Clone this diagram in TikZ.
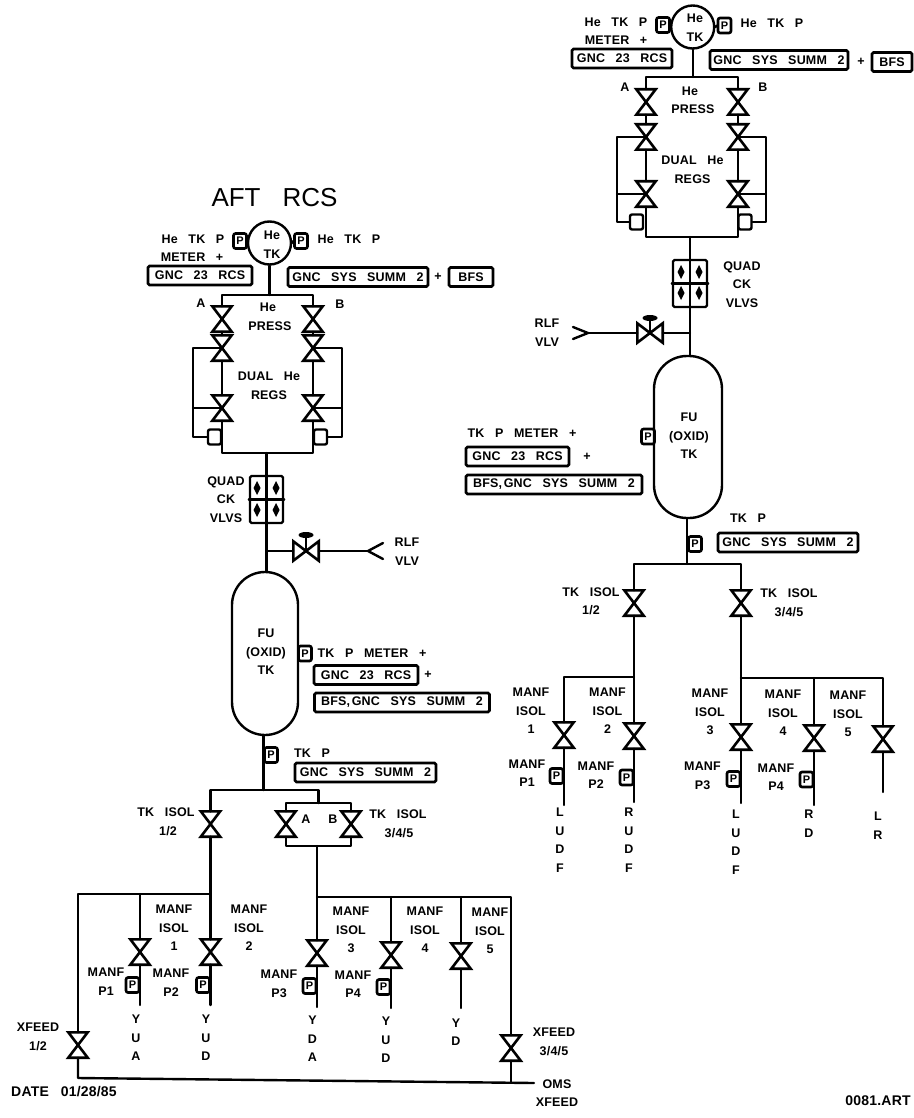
\documentclass[tikz,border=0pt]{standalone}
\usepackage{fontspec}
\usetikzlibrary{shapes.geometric}
\newfontfamily\lab[WordSpace=2.9,LetterSpace=1.5]{Liberation Sans}
\newfontfamily\plab{Liberation Sans}
\newcounter{lbn}
\newcommand{\bsp}{\hspace{-9pt}}
\tikzset{
  pipe/.style={line width=2.4pt,line join=round,line cap=round},
  vlvn/.style={rectangle,inner sep=0pt,minimum width=19pt,minimum height=25pt},
  hvlvn/.style={rectangle,inner sep=0pt,minimum width=25pt,minimum height=19pt},
  vlvd/.style={line width=2.6pt,line join=miter},
  lbl/.style={inner sep=0pt,align=center,font=\lab\bfseries\fontsize{12.5}{18.6}\selectfont},
  biglbl/.style={inner sep=0pt,font=\lab\bfseries\fontsize{14}{14}\selectfont},
  tbox/.style={draw,line width=2.6pt,rounded corners=1.5pt,inner sep=0pt,minimum height=19pt,font=\lab\bfseries\fontsize{12.5}{14}\selectfont},
  pbox/.style={draw,line width=2.6pt,rounded corners=2pt,inner sep=0pt,minimum width=13pt,minimum height=15pt,font=\plab\bfseries\fontsize{11}{11}\selectfont},
  regbox/.style={draw,line width=2.4pt,rounded corners=2pt,inner sep=0pt,minimum width=13pt,minimum height=15pt},
  tanknode/.style={draw,line width=2.4pt,rounded corners=33pt,inner sep=0pt,minimum width=66pt,minimum height=163pt},
  hetank/.style={draw,circle,line width=2.4pt,inner sep=0pt,minimum size=43pt},
  qbox/.style={draw,line width=2.4pt,rounded corners=1.5pt,inner sep=0pt,minimum width=33pt,minimum height=47pt},
  handle/.style={ellipse,fill=black,inner sep=0pt,minimum width=15pt,minimum height=6pt}
}
\newcommand{\lb}[3]{\stepcounter{lbn}\node[lbl] (lb\arabic{lbn}) at (#1,#2) {#3};}
\newcommand{\vlv}[3]{\node[vlvn] (#1) at (#2,#3) {};\draw[vlvd] (#1.north west) -- (#1.north east) -- (#1.south west) -- (#1.south east) -- cycle;}
\newcommand{\hvlv}[3]{\node[hvlvn] (#1) at (#2,#3) {};\draw[vlvd] (#1.north west) -- (#1.south west) -- (#1.north east) -- (#1.south east) -- cycle;}
\newcommand{\qd}[2]{\fill (#1,#2-7) -- (#1+3.5,#2) -- (#1,#2+7) -- (#1-3.5,#2) -- cycle;}
\begin{document}
\begin{tikzpicture}[x=1pt,y=-1pt]
\useasboundingbox (0,0) rectangle (913,1118);
\fill[white] (0,0) rectangle (913,1118);

% ===== AFT RCS =====
\node[inner sep=0pt,font=\plab\fontsize{26}{26}\selectfont] (title) at (274.5,198) {AFT\hspace{22pt}RCS};
\node[hetank] (heA) at (269.5,243) {};
\node[pbox] (pA1) at (240,241) {P};
\node[pbox] (pA2) at (301,241) {P};
\draw[pipe] (pA1.east) -- (heA.west);
\draw[pipe] (pA2.west) -- (heA.east);
\lb{193}{239}{He TK P}
\lb{192}{257}{METER +}
\lb{349}{239}{He TK P}
\node[tbox,minimum width=104pt] (aGnc) at (200,275.5) {GNC 23 RCS};
\node[tbox,minimum width=140pt] (aSys) at (358,277) {GNC SYS SUMM 2};
\lb{438}{277}{+}
\node[tbox,minimum width=44pt] (aBfs) at (471,277) {BFS};
\vlv{va1}{222}{319}\vlv{va2}{222}{348}\vlv{va3}{222}{408}
\vlv{vb1}{313}{319}\vlv{vb2}{313}{348}\vlv{vb3}{313}{408}
\node[regbox] (rgA) at (214.5,437) {};
\node[regbox] (rgB) at (320.5,437) {};
\coordinate (hbM) at (269.5,295);\coordinate (hbL) at (222,295);\coordinate (hbR) at (313,295);
\coordinate (oaT) at (193,348);\coordinate (oaM) at (193,408);\coordinate (oaB) at (193,437);
\coordinate (obT) at (342,348);\coordinate (obM) at (342,408);\coordinate (obB) at (342,437);
\coordinate (blL) at (222,453);\coordinate (blR) at (313,453);\coordinate (blM) at (266.5,453);
\draw[pipe] (heA.south) -- (hbM);
\draw[pipe] (va1.north) -- (hbL) -- (hbR) -- (vb1.north);
\draw[pipe] (va1.south) -- (va2.north);\draw[pipe] (va2.south) -- (va3.north);
\draw[pipe] (vb1.south) -- (vb2.north);\draw[pipe] (vb2.south) -- (vb3.north);
\draw[pipe] (va2.center) -- (oaT) -- (oaB) -- (rgA.west);
\draw[pipe] (oaM) -- (va3.center);
\draw[pipe] (vb2.center) -- (obT) -- (obB) -- (rgB.east);
\draw[pipe] (obM) -- (vb3.center);
\draw[pipe] (va3.south) -- (blL) -- (blR) -- (vb3.south);
\lb{201}{303}{A}\lb{340}{304}{B}
\lb{268}{307}{He}\lb{270}{326}{PRESS}
\lb{269}{386}{DUAL He\\REGS}
\node[lbl] (heAt) at (272,244.5) {He\\TK};
\node[qbox] (qA) at (266.5,499.5) {};
\draw[pipe] (qA.north) -- (qA.south);\draw[pipe] (qA.west) -- (qA.east);
\qd{257}{488}\qd{276}{488}\qd{257}{510}\qd{276}{510}
\draw[pipe] (blM) -- (qA.north);
\lb{226}{499.5}{QUAD\\CK\\VLVS}
\node[tanknode] (tkA) at (265,653.5) {};
\draw[pipe] (qA.south) -- (qA.south |- tkA.north);
\hvlv{rA}{306}{551}
\node[handle] (hA) at (306,535) {};
\draw[pipe] (rA.center) -- (hA.south);
\coordinate (rAj) at (266.5,551);\coordinate (rAc) at (368,551);\coordinate (rAu) at (383,543);\coordinate (rAd) at (383,559);
\draw[pipe] (rAj) -- (rA.west);\draw[pipe] (rA.east) -- (rAc);
\draw[pipe] (rAu) -- (rAc) -- (rAd);
\lb{407}{551.5}{RLF\\VLV}
\node[lbl] (fuA) at (266,652) {FU\\(OXID)\\TK};
\node[pbox] (pA3) at (305,653.5) {P};
\lb{372}{653}{TK P METER +}
\node[tbox,minimum width=104pt] (aGnc2) at (366,675) {GNC 23 RCS};
\lb{428}{675}{+}
\node[tbox,minimum width=175pt] (aBfs2) at (402,702.5) {BFS,\bsp\ GNC SYS SUMM 2};
\coordinate (tA) at (263.5,790);\coordinate (tAl) at (210.5,790);\coordinate (tAr) at (318.5,790);
\draw[pipe] (tA |- tkA.south) -- (tA);
\node[pbox] (pA4) at (271,755) {P};
\lb{312}{753}{TK P}
\node[tbox,minimum width=141pt] (aSys2) at (365.5,772.5) {GNC SYS SUMM 2};
\vlv{t12}{210.5}{824}
\vlv{tA1}{286}{824}\vlv{tB1}{351}{824}
\coordinate (bxTj) at (318.5,803);\coordinate (bxTl) at (286,803);\coordinate (bxTr) at (351,803);
\coordinate (bxBl) at (286,846);\coordinate (bxBr) at (351,846);\coordinate (bxBj) at (317,846);
\draw[pipe] (t12.north) -- (tAl) -- (tAr) -- (bxTj);
\draw[pipe] (tA1.north) -- (bxTl) -- (bxTr) -- (tB1.north);
\draw[pipe] (tA1.south) -- (bxBl) -- (bxBr) -- (tB1.south);
\lb{166}{812}{TK ISOL}\lb{168}{831}{1/2}
\lb{306}{819}{A}\lb{333}{819}{B}
\lb{398}{814}{TK ISOL}\lb{399}{833}{3/4/5}
\vlv{m1}{140}{952}\vlv{m2}{210.5}{952}\vlv{m3}{317}{953}\vlv{m4}{391}{955}\vlv{m5}{461}{956}
\vlv{xf1}{78}{1045}\vlv{xf2}{511}{1048}
\coordinate (ml) at (78,894);\coordinate (m1t) at (140,894);\coordinate (m2t) at (210.5,894);
\coordinate (mr) at (317,897);\coordinate (m4t) at (391,897);\coordinate (m5t) at (461,897);\coordinate (mrr) at (511,897);
\coordinate (bot1) at (78,1078);\coordinate (bot2) at (534,1083);\coordinate (botj) at (511,1082.7);
\draw[pipe] (xf1.north) -- (ml) -- (m2t);
\draw[pipe] (t12.south) -- (m2t) -- (m2.north);
\draw[pipe] (m1t) -- (m1.north);
\draw[pipe] (bxBj) -- (mr) -- (m3.north);
\draw[pipe] (mr) -- (mrr) -- (xf2.north);
\draw[pipe] (m4t) -- (m4.north);\draw[pipe] (m5t) -- (m5.north);
\draw[pipe] (xf1.south) -- (bot1) -- (bot2);
\draw[pipe] (xf2.south) -- (botj);
\coordinate (e1) at (140,1005);\coordinate (e2) at (210.5,1005);\coordinate (e3) at (317,1007);\coordinate (e4) at (391,1008);\coordinate (e5) at (461,1008);
\draw[pipe] (m1.south) -- (e1);\draw[pipe] (m2.south) -- (e2);\draw[pipe] (m3.south) -- (e3);\draw[pipe] (m4.south) -- (e4);\draw[pipe] (m5.south) -- (e5);
\node[pbox] (pm1) at (132.5,985) {P};\node[pbox] (pm2) at (203,985) {P};\node[pbox] (pm3) at (309.5,986) {P};\node[pbox] (pm4) at (383.5,987) {P};
\lb{174}{928}{MANF\\ISOL\\1}\lb{249}{928}{MANF\\ISOL\\2}\lb{351}{930}{MANF\\ISOL\\3}\lb{425}{930}{MANF\\ISOL\\4}\lb{490}{931}{MANF\\ISOL\\5}
\lb{106}{981.5}{MANF\\P1}\lb{171}{982.5}{MANF\\P2}\lb{279}{983.5}{MANF\\P3}\lb{353}{984}{MANF\\P4}
\lb{136}{1038}{Y\\U\\A}\lb{206}{1038}{Y\\U\\D}\lb{312.5}{1039}{Y\\D\\A}\lb{386}{1040}{Y\\U\\D}\lb{456}{1032}{Y\\D}
\lb{38}{1037}{XFEED\\1/2}
\lb{554}{1042}{XFEED\\3/4/5}
\lb{557}{1093}{OMS\\XFEED}
\node[biglbl] (dateL) at (64,1092) {DATE 01/28/85};
\node[biglbl] (artL) at (878,1101) {0081.ART};

% ===== right system =====
\node[hetank] (heB) at (692.7,27) {};
\node[pbox] (pB1) at (663,25) {P};
\node[pbox] (pB2) at (724.5,25.5) {P};
\draw[pipe] (pB1.east) -- (heB.west);\draw[pipe] (pB2.west) -- (heB.east);
\lb{616}{22}{He TK P}\lb{616}{40}{METER +}\lb{772}{23}{He TK P}
\node[tbox,minimum width=100pt] (bGnc) at (622,58.5) {GNC 23 RCS};
\node[tbox,minimum width=138pt] (bSys) at (779,60) {GNC SYS SUMM 2};
\lb{861}{62}{+}
\node[tbox,minimum width=40pt] (bBfs) at (892,62) {BFS};
\vlv{wa1}{646}{102}\vlv{wa2}{646}{137}\vlv{wa3}{646}{194}
\vlv{wb1}{738}{102}\vlv{wb2}{738}{137}\vlv{wb3}{738}{194}
\node[regbox] (rgC) at (636.5,222) {};
\node[regbox] (rgD) at (745,222) {};
\coordinate (cbM) at (692.7,77);\coordinate (cbL) at (646,77);\coordinate (cbR) at (738,77);
\coordinate (ocT) at (617,137);\coordinate (ocM) at (617,194);\coordinate (ocB) at (617,222);
\coordinate (odT) at (766,137);\coordinate (odM) at (766,194);\coordinate (odB) at (766,222);
\coordinate (dbL) at (646,237);\coordinate (dbR) at (738,237);\coordinate (dbM) at (690,237);
\draw[pipe] (heB.south) -- (cbM);
\draw[pipe] (wa1.north) -- (cbL) -- (cbR) -- (wb1.north);
\draw[pipe] (wa1.south) -- (wa2.north);\draw[pipe] (wa2.south) -- (wa3.north);
\draw[pipe] (wb1.south) -- (wb2.north);\draw[pipe] (wb2.south) -- (wb3.north);
\draw[pipe] (wa2.center) -- (ocT) -- (ocB) -- (rgC.west);
\draw[pipe] (ocM) -- (wa3.center);
\draw[pipe] (wb2.center) -- (odT) -- (odB) -- (rgD.east);
\draw[pipe] (odM) -- (wb3.center);
\draw[pipe] (wa3.south) -- (dbL) -- (dbR) -- (wb3.south);
\lb{625}{87}{A}\lb{763}{87}{B}\lb{690}{91}{He}\lb{693}{109}{PRESS}
\lb{692.5}{169.5}{DUAL He\\REGS}
\node[lbl] (heBt) at (695,28) {He\\TK};
\node[qbox,minimum width=34pt] (qB) at (690,283.5) {};
\draw[pipe] (qB.north) -- (qB.south);\draw[pipe] (qB.west) -- (qB.east);
\qd{681}{272}\qd{699}{272}\qd{681}{293}\qd{699}{293}
\draw[pipe] (dbM) -- (qB.north);
\lb{742}{284.5}{QUAD\\CK\\VLVS}
\node[tanknode,minimum width=68pt,minimum height=162pt] (tkB) at (688,437) {};
\draw[pipe] (qB.south) -- (qB.south |- tkB.north);
\hvlv{rB}{650}{333}
\node[handle] (hB) at (650,318) {};
\draw[pipe] (rB.center) -- (hB.south);
\coordinate (rBj) at (690,333);\coordinate (rBc) at (588,333);\coordinate (rBu) at (573,327);\coordinate (rBd) at (573,339);
\draw[pipe] (rBj) -- (rB.east);\draw[pipe] (rB.west) -- (rBc);
\draw[pipe] (rBu) -- (rBc) -- (rBd);
\lb{547}{332.5}{RLF\\VLV}
\node[lbl] (fuB) at (689,436) {FU\\(OXID)\\TK};
\node[pbox] (pB3) at (648,436.5) {P};
\lb{522}{433}{TK P METER +}
\node[tbox,minimum width=103pt] (bGnc2) at (517.5,456.5) {GNC 23 RCS};
\lb{587}{457}{+}
\node[tbox,minimum width=176pt] (bBfs2) at (554,484.5) {BFS,\bsp\ GNC SYS SUMM 2};
\coordinate (tB) at (687,564);\coordinate (tBl) at (634,564);\coordinate (tBr) at (741,564);
\draw[pipe] (tB |- tkB.south) -- (tB);
\node[pbox] (pB4) at (695,544) {P};
\lb{748}{518}{TK P}
\node[tbox,minimum width=140pt] (bSys2) at (788,542.5) {GNC SYS SUMM 2};
\vlv{s12}{634}{603}\vlv{s34}{741}{603}
\draw[pipe] (s12.north) -- (tBl) -- (tBr) -- (s34.north);
\lb{591}{592}{TK ISOL}\lb{591}{610}{1/2}
\lb{789}{593}{TK ISOL}\lb{789}{612}{3/4/5}
\vlv{n1}{564}{735}\vlv{n2}{634}{736}\vlv{n3}{741}{737}\vlv{n4}{814}{738}\vlv{n5}{883}{739}
\coordinate (nl) at (564,677);\coordinate (nj) at (634,677);\coordinate (nk) at (741,678);\coordinate (n4t) at (814,678);\coordinate (n5t) at (883,678);
\draw[pipe] (s12.south) -- (nj) -- (n2.north);
\draw[pipe] (nj) -- (nl) -- (n1.north);
\draw[pipe] (s34.south) -- (nk) -- (n3.north);
\draw[pipe] (nk) -- (n5t) -- (n5.north);
\draw[pipe] (n4t) -- (n4.north);
\coordinate (f1) at (564,805);\coordinate (f2) at (634,802);\coordinate (f3) at (741,803);\coordinate (f4) at (814,805);\coordinate (f5) at (883,792);
\draw[pipe] (n1.south) -- (f1);\draw[pipe] (n2.south) -- (f2);\draw[pipe] (n3.south) -- (f3);\draw[pipe] (n4.south) -- (f4);\draw[pipe] (n5.south) -- (f5);
\node[pbox] (pn1) at (556.5,776) {P};\node[pbox] (pn2) at (626.5,777.5) {P};\node[pbox] (pn3) at (733.5,779) {P};\node[pbox] (pn4) at (806.5,779.5) {P};
\lb{531}{711}{MANF\\ISOL\\1}\lb{607.5}{711}{MANF\\ISOL\\2}\lb{710}{712}{MANF\\ISOL\\3}\lb{783}{713}{MANF\\ISOL\\4}\lb{848}{714}{MANF\\ISOL\\5}
\lb{527}{773}{MANF\\P1}\lb{596}{775}{MANF\\P2}\lb{702.5}{776}{MANF\\P3}\lb{776}{777}{MANF\\P4}
\lb{560}{840}{L\\U\\D\\F}\lb{629}{840}{R\\U\\D\\F}\lb{736}{842}{L\\U\\D\\F}\lb{809}{823.5}{R\\D}\lb{878}{825.5}{L\\R}
\end{tikzpicture}
\end{document}
